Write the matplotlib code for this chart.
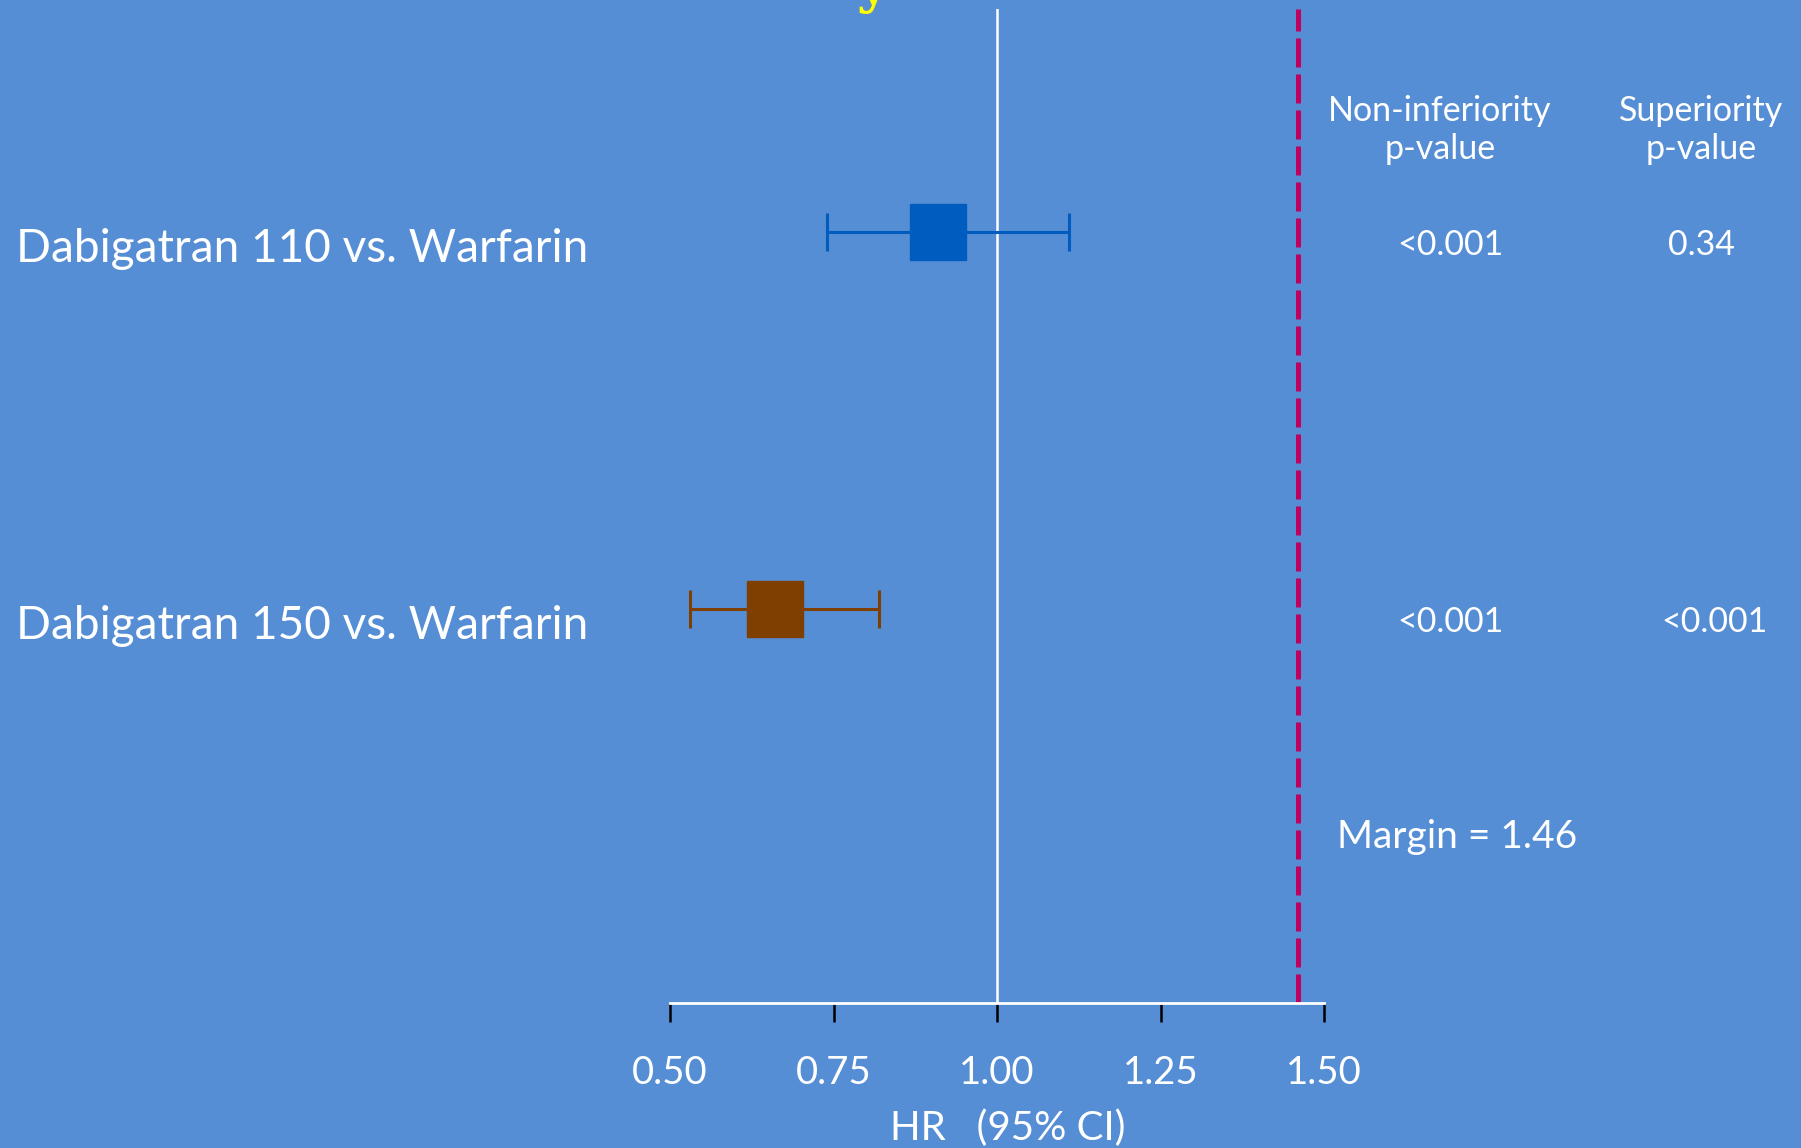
import matplotlib.pyplot as plt
from matplotlib.transforms import blended_transform_factory

# data
labels = ['Dabigatran 110 vs. Warfarin', 'Dabigatran 150 vs. Warfarin']
hr = [0.91, 0.66]
ci_low = [0.74, 0.53]
ci_high = [1.11, 0.82]
noninf_p = ['<0.001', '<0.001']
sup_p = ['0.34', '<0.001']
margin = 1.46
xticks = [0.50, 0.75, 1.00, 1.25, 1.50]
rows = [2, 1]
colors = ['#005cbf', '#7f3f00']

bg = '#558ed5'
plt.rcParams['font.family'] = ['Lato', 'DejaVu Sans']

fig = plt.figure(figsize=(18.01, 11.48), dpi=100, facecolor=bg)
W, H = 1801, 1148
ax = fig.add_axes([670 / W, 1 - 1003 / H, 654 / W, 994 / H])
ax.set_facecolor(bg)
ax.patch.set_visible(False)

ax.set_xlim(0.5, 1.5)
ax.set_ylim(-0.045, 2.59)

# reference line at 1 and margin line
ax.axvline(1.0, color='white', lw=1.8, zorder=1)
ax.axvline(margin, color='#c0005f', lw=3.6, dashes=(5.8, 1.4), zorder=1)

for y, h, lo, hi, c in zip(rows, hr, ci_low, ci_high, colors):
    ax.errorbar(h, y, xerr=[[h - lo], [hi - h]], fmt='s', color=c, ms=40,
                mec=c, elinewidth=2.2, capsize=13.5, capthick=2.2, zorder=3)

for s in ['top', 'right', 'left']:
    ax.spines[s].set_visible(False)
ax.spines['bottom'].set_color('white')
ax.spines['bottom'].set_linewidth(2)
ax.set_yticks([])
ax.set_xticks(xticks)
ax.set_xticklabels(['%.2f' % t for t in xticks])
ax.tick_params(axis='x', direction='out', length=13.5, width=1.8, color='black',
               labelcolor='white', labelsize=27.5, pad=24)
ax.set_xlabel('HR   (95% CI)', color='white', fontsize=29)
ax.xaxis.set_label_coords(0.517, -0.107)

tr = blended_transform_factory(fig.transFigure, ax.transData)
for y, lab, p1, p2 in zip(rows, labels, noninf_p, sup_p):
    fig.text(16 / W, y - 0.045, lab, transform=tr, color='white', fontsize=33,
             ha='left', va='center')
    fig.text(1450 / W, y - 0.035, p1, transform=tr, color='white', fontsize=24.5,
             ha='center', va='center')
    fig.text(1701 / W if p2 == '0.34' else 1714 / W, y - 0.035, p2, transform=tr,
             color='white', fontsize=24.5, ha='center', va='center')

fig.text(1440 / W, 1 - 130 / H, 'Non-inferiority\np-value', color='white',
         fontsize=24.5, ha='center', va='center', linespacing=1.2)
fig.text(1701 / W, 1 - 130 / H, 'Superiority\np-value', color='white',
         fontsize=24.5, ha='center', va='center', linespacing=1.2)
fig.text(1337 / W, 1 - 837 / H, 'Margin = %.2f' % margin, color='white',
         fontsize=28, ha='left', va='center')

# tail of the cut-off title at the top edge
fig.text(873 / W, 1 - 2 / H, 'y', color='#ffff00', fontsize=40,
         family='DejaVu Serif', fontweight='bold', ha='center', va='baseline')

fig.savefig('out.png', dpi=100, facecolor=bg)
